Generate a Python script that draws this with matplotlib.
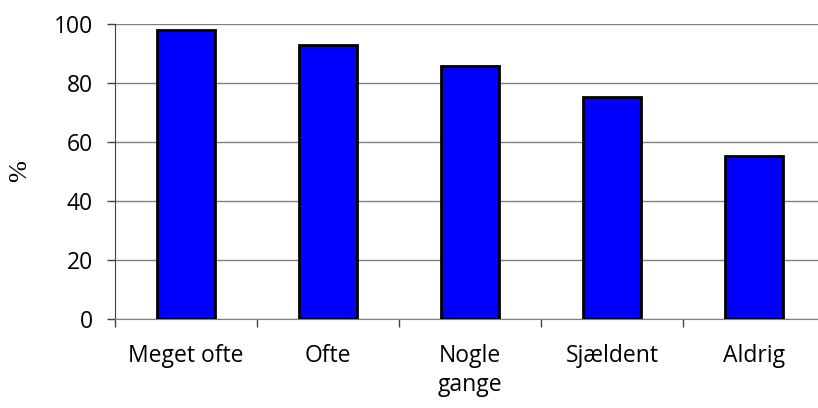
import matplotlib.pyplot as plt
from matplotlib.ticker import FixedLocator

# ----------------------------
# Data
# ----------------------------
categories = ["Meget ofte", "Ofte", "Nogle\ngange", "Sjældent", "Aldrig"]
values = [98.1, 92.8, 85.6, 75.2, 55.2]
y_ticks = [0, 20, 40, 60, 80, 100]

# ----------------------------
# Figure / axes layout
# ----------------------------
fig = plt.figure(figsize=(8.18, 4.08), dpi=100)
ax = fig.add_axes([115 / 818, 1 - 319 / 408, 710 / 818, 295 / 408])

x = list(range(len(categories)))
ax.bar(x, values, width=0.41, color="#0000ff", edgecolor="black", linewidth=2.0, zorder=3)

ax.set_xlim(-0.5, len(categories) - 0.5)
ax.set_ylim(0, 100)

# gridlines
ax.set_yticks(y_ticks)
ax.yaxis.grid(True, color="#808080", linewidth=1.0, zorder=0)
ax.set_axisbelow(True)

# x ticks: marks at category boundaries, labels at centers
ax.xaxis.set_major_locator(FixedLocator([i - 0.5 for i in range(len(categories))]))
ax.set_xticklabels([""] * len(categories))
ax.xaxis.set_minor_locator(FixedLocator(x))
ax.set_xticklabels(categories, minor=True, fontsize=16.5, family="Open Sans",
                   linespacing=1.3, va="top")
ax.tick_params(axis="x", which="major", direction="out", length=6, color="#404040", width=1)
ax.tick_params(axis="x", which="minor", length=0, pad=18)
ax.tick_params(axis="y", direction="out", length=6, color="#404040", width=1, pad=10)
for lab in ax.get_yticklabels():
    lab.set_fontsize(16.5)
    lab.set_family("Open Sans")

for side in ["top", "right"]:
    ax.spines[side].set_visible(False)
ax.spines["left"].set_color("#404040")
ax.spines["bottom"].set_color("#808080")

ax.set_ylabel("%", family="Liberation Serif", fontsize=19)
ax.yaxis.set_label_coords(-84 / 710, 0.5)

fig.savefig("out.png", dpi=100)
